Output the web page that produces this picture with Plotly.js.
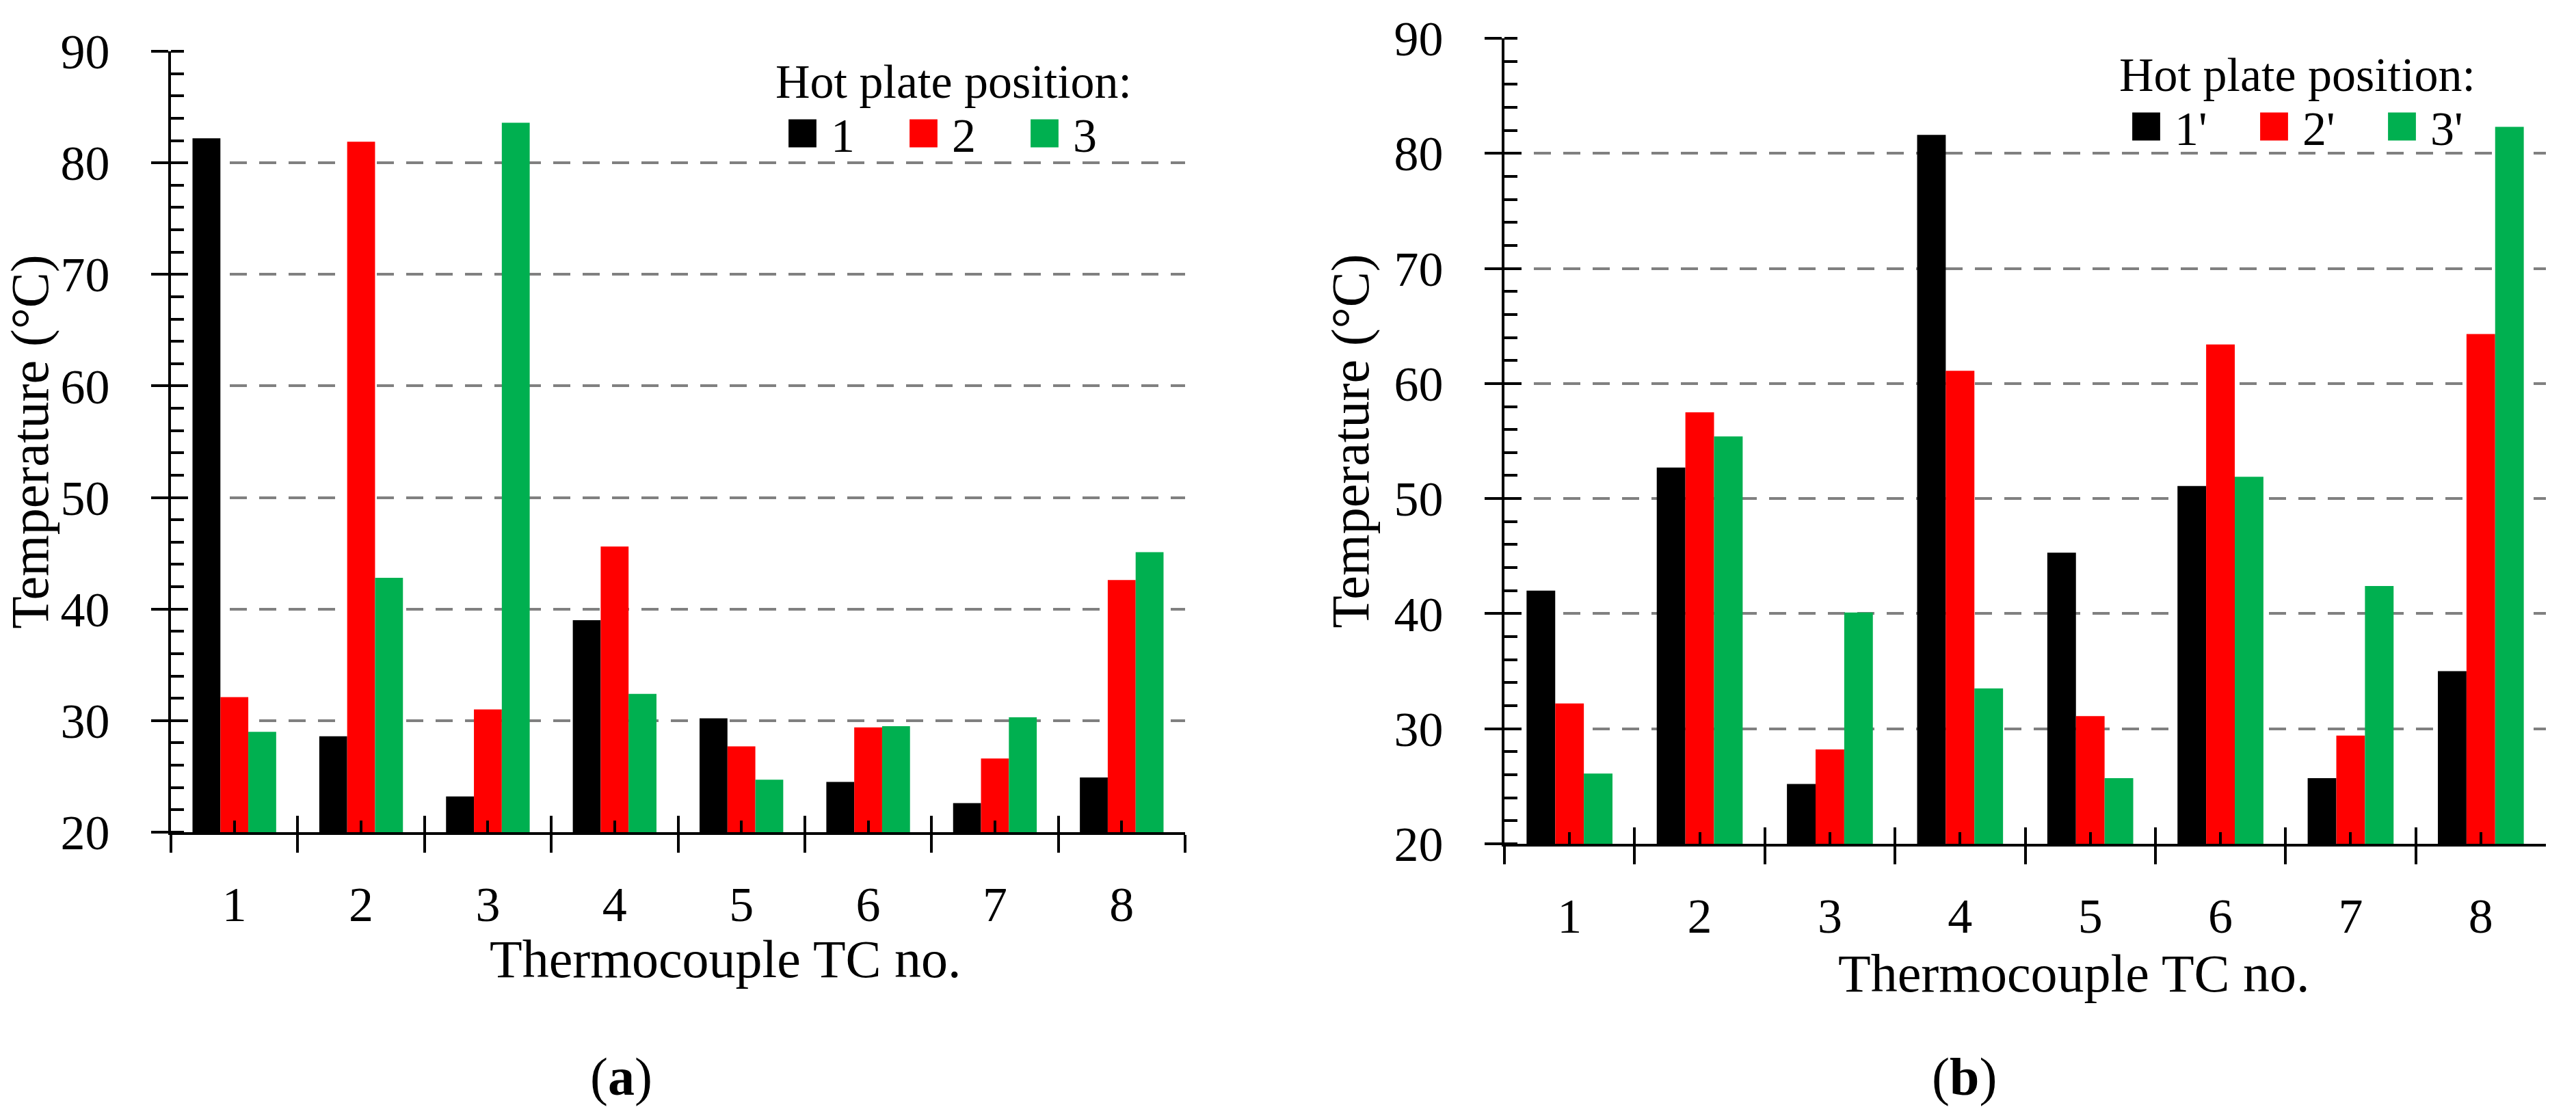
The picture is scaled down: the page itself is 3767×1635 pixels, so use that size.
<!DOCTYPE html>
<html>
<head>
<meta charset="utf-8">
<script src="https://cdn.plot.ly/plotly-3.0.1.min.js"></script>
<style>
html,body{margin:0;padding:0;background:#ffffff;}
#chart{width:3767px;height:1635px;}
</style>
</head>
<body>
<div id="chart"></div>
<script>
// ---- data ----
const categories = ["1", "2", "3", "4", "5", "6", "7", "8"];
const namesA = ["1", "2", "3"];
const namesB = ["1'", "2'", "3'"];
const tempA1 = [82.2, 28.6, 23.2, 39.0, 30.2, 24.5, 22.6, 24.9];
const tempA2 = [32.1, 81.9, 31.0, 45.6, 27.7, 29.4, 26.6, 42.6];
const tempA3 = [29.0, 42.8, 83.6, 32.4, 24.7, 29.5, 30.3, 45.1];
const tempB1 = [42.0, 52.7, 25.2, 81.6, 45.3, 51.1, 25.7, 35.0];
const tempB2 = [32.2, 57.5, 28.2, 61.1, 31.1, 63.4, 29.4, 64.3];
const tempB3 = [26.1, 55.4, 40.1, 33.5, 25.7, 51.9, 42.4, 82.3];
const yTicks = [20, 30, 40, 50, 60, 70, 80, 90];
const legendTitle = "Hot plate position:";
const xTitle = "Thermocouple TC no.";
const yTitle = "Temperature (°C)";
const panelLabels = ["(<b>a</b>)", "(<b>b</b>)"];
const colors = ["#000000", "#FF0000", "#00B050"];

// ---- layout helpers ----
const W = 3767, H = 1635;
const FONT = "'Liberation Serif', 'Times New Roman', serif";
const px = v => v / W;
const py = v => 1 - v / H;
const n = categories.length;

function bars(vals, names, xa, ya, leg) {
  return vals.map((v, i) => ({
    type: 'bar', x: categories, y: v, name: names[i],
    marker: {color: colors[i], line: {width: 0}},
    xaxis: xa, yaxis: ya, legend: leg, hoverinfo: 'x+y+name'
  }));
}

function yMain(dom, anchor) {
  return {
    domain: dom, anchor: anchor, automargin: false, range: [yTicks[0], yTicks[yTicks.length - 1]],
    tickmode: 'array', tickvals: yTicks, ticktext: yTicks.map(String),
    ticks: 'outside', ticklen: 25, tickwidth: 4, tickcolor: '#000',
    showline: true, linecolor: '#000', linewidth: 4,
    showgrid: true, gridcolor: '#808080', gridwidth: 4, griddash: '25px,18px',
    zeroline: false,
    minor: {ticks: 'inside', ticklen: 19, tickwidth: 4, tickcolor: '#000', tick0: 20, dtick: 2, showgrid: false},
    tickfont: {family: FONT, size: 72, color: '#000'}, ticklabelstandoff: 46,
    title: {text: yTitle, font: {family: FONT, size: 78, color: '#000'}, standoff: 12},
    fixedrange: true
  };
}
function yOver(over, anchor) {
  return {
    overlaying: over, anchor: anchor, automargin: false, range: [yTicks[0], yTicks[yTicks.length - 1]],
    tickmode: 'array', tickvals: yTicks, ticks: 'inside', ticklen: 25, tickwidth: 4, tickcolor: '#000',
    showticklabels: false, showgrid: false, zeroline: false, showline: false, fixedrange: true
  };
}
function xMain(dom, anchor) {
  return {
    domain: dom, anchor: anchor, automargin: false, type: 'category', categoryorder: 'array', categoryarray: categories,
    range: [-0.5, n - 0.5], tickson: 'boundaries',
    ticks: 'outside', ticklen: 26, tickwidth: 4, tickcolor: '#000',
    showline: true, linecolor: '#000', linewidth: 4, showgrid: false, zeroline: false,
    tickfont: {family: FONT, size: 72, color: '#000'}, ticklabelstandoff: 40, fixedrange: true
  };
}
function xOver(over, anchor) {
  return {
    overlaying: over, anchor: anchor, automargin: false, type: 'linear', range: [-0.5, n - 0.5],
    tickmode: 'linear', tick0: -0.5, dtick: 1, ticks: 'inside', ticklen: 24, tickwidth: 4, tickcolor: '#000',
    minor: {ticks: 'inside', ticklen: 17, tickwidth: 4, tickcolor: '#000', tick0: 0, dtick: 1, showgrid: false},
    showticklabels: false, showgrid: false, zeroline: false, showline: false, fixedrange: true
  };
}
function legendOf(x, y, entryW) {
  return {
    x: x, y: y, xanchor: 'left', yanchor: 'top', orientation: 'h',
    bgcolor: 'rgba(0,0,0,0)', borderwidth: 0,
    font: {family: FONT, size: 70, color: '#000'},
    title: {text: legendTitle, side: 'top', font: {family: FONT, size: 70, color: '#000'}},
    itemwidth: 73, entrywidth: entryW, entrywidthmode: 'pixels', traceorder: 'normal'
  };
}

const data = []
  .concat(bars([tempA1, tempA2, tempA3], namesA, 'x', 'y', 'legend'))
  .concat(bars([tempB1, tempB2, tempB3], namesB, 'x2', 'y2', 'legend2'))
  .concat([
    {type: 'scatter', x: [], y: [], xaxis: 'x3', yaxis: 'y3', showlegend: false, hoverinfo: 'skip'},
    {type: 'scatter', x: [], y: [], xaxis: 'x4', yaxis: 'y4', showlegend: false, hoverinfo: 'skip'}
  ]);

const layout = {
  width: W, height: H, autosize: false,
  margin: {l: 0, r: 0, t: 0, b: 0, pad: 0, autoexpand: false},
  paper_bgcolor: '#ffffff', plot_bgcolor: 'rgba(0,0,0,0)',
  font: {family: FONT, color: '#000'},
  barmode: 'group', bargap: 0.34, bargroupgap: 0,
  showlegend: true,
  xaxis: xMain([px(250), px(1733)], 'y'),
  yaxis: yMain([py(1217), py(75)], 'x'),
  xaxis2: xMain([px(2200), px(3723)], 'y2'),
  yaxis2: yMain([py(1234), py(56)], 'x2'),
  xaxis3: xOver('x', 'y'),
  yaxis3: yOver('y', 'x'),
  xaxis4: xOver('x2', 'y2'),
  yaxis4: yOver('y2', 'x2'),
  legend: legendOf(px(1132), py(52), 89),
  legend2: legendOf(px(3097), py(42), 99),
  annotations: [
    {text: xTitle, xref: 'paper', yref: 'paper', x: px(1061), y: py(1402), xanchor: 'center', yanchor: 'middle', showarrow: false, font: {family: FONT, size: 78, color: '#000'}},
    {text: xTitle, xref: 'paper', yref: 'paper', x: px(3033), y: py(1423), xanchor: 'center', yanchor: 'middle', showarrow: false, font: {family: FONT, size: 78, color: '#000'}},
    {text: panelLabels[0], xref: 'paper', yref: 'paper', x: px(908), y: py(1574), xanchor: 'center', yanchor: 'middle', showarrow: false, font: {family: FONT, size: 78, color: '#000'}},
    {text: panelLabels[1], xref: 'paper', yref: 'paper', x: px(2872), y: py(1574), xanchor: 'center', yanchor: 'middle', showarrow: false, font: {family: FONT, size: 78, color: '#000'}}
  ]
};

Plotly.newPlot('chart', data, layout, {displayModeBar: false, responsive: false}).then(gd => {
  // enlarge the legend colour swatches to match the reference
  gd.querySelectorAll('.infolayer .legendpoints path').forEach(p => {
    const t = p.getAttribute('transform') || '';
    p.setAttribute('transform', t + ' scale(3.4)');
  });
});
</script>
</body>
</html>
